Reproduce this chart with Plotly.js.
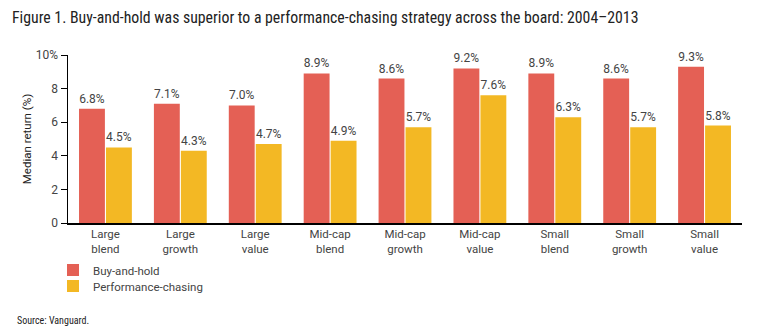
<!DOCTYPE html>
<html>
<head>
<meta charset="utf-8">
<script src="https://cdn.plot.ly/plotly-3.0.1.min.js"></script>
<style>body{margin:0;padding:0;background:#fff;}#chart{width:762px;height:334px;}</style>
</head>
<body>
<div id="chart"></div>
<script>
const categories = ["Large<br>blend","Large<br>growth","Large<br>value","Mid-cap<br>blend","Mid-cap<br>growth","Mid-cap<br>value","Small<br>blend","Small<br>growth","Small<br>value"];
const buyAndHold = [6.8, 7.1, 7.0, 8.9, 8.6, 9.2, 8.9, 8.6, 9.3];
const performanceChasing = [4.5, 4.3, 4.7, 4.9, 5.7, 7.6, 6.3, 5.7, 5.8];
const yTickVals = [0, 2, 4, 6, 8, 10];
const yTickText = ["0", "2", "4", "6", "8", "10%"];

const sans = "Roboto, 'Liberation Sans', sans-serif";
const labelFont = {family: sans, size: 12, color: "#444"};
const condensed = "'Liberation Sans Narrow', 'Roboto Condensed', 'DejaVu Sans Condensed', sans-serif";

const traces = [
  {type: "bar", name: "Buy-and-hold", x: categories, y: buyAndHold, legend: "legend",
   marker: {color: "#E46055"}, text: buyAndHold.map(v => v.toFixed(1) + "%"),
   textposition: "outside", textfont: labelFont, cliponaxis: false, hoverinfo: "skip"},
  {type: "bar", name: "Performance-chasing", x: categories, y: performanceChasing, legend: "legend2",
   marker: {color: "#F3B824"}, text: performanceChasing.map(v => v.toFixed(1) + "%"),
   textposition: "outside", textfont: labelFont, cliponaxis: false, hoverinfo: "skip"}
];

const legendX = (53 - 68) / 674;
const legendFont = {family: sans, size: 11.5, color: "#444"};
const layout = {
  width: 762, height: 334,
  margin: {l: 68, r: 20, t: 55, b: 111},
  paper_bgcolor: "#fff", plot_bgcolor: "#fff",
  barmode: "group", bargap: 0.28, bargroupgap: 0.04,
  font: labelFont,
  title: {text: "Figure 1. Buy-and-hold was superior to a performance-chasing strategy across the board: 2004–2013",
          x: 12/762, xanchor: "left", xref: "container", y: 1 - 17/334, yanchor: "middle", yref: "container",
          font: {family: condensed, size: 15.8, color: "#222"}},
  xaxis: {showline: true, linecolor: "#000", linewidth: 1.5, ticks: "", tickfont: {family: sans, size: 11.5, color: "#444"}, automargin: false},
  yaxis: {range: [0, 10], tickvals: yTickVals, ticktext: yTickText, showgrid: false, zeroline: false,
          showline: true, linecolor: "#000", linewidth: 1.5, ticks: "outside", ticklen: 6, tickcolor: "#000",
          tickfont: labelFont, automargin: false,
          title: {text: "Median return (%)", font: {family: sans, size: 11.5, color: "#222"}, standoff: 2}},
  showlegend: true,
  legend: {x: legendX, xanchor: "left", y: (223 - 270) / 168, yanchor: "middle", bgcolor: "rgba(0,0,0,0)",
           font: legendFont, itemwidth: 30},
  legend2: {x: legendX, xanchor: "left", y: (223 - 286) / 168, yanchor: "middle", bgcolor: "rgba(0,0,0,0)",
            font: legendFont, itemwidth: 30},
  annotations: [{text: "Source: Vanguard.", xref: "paper", yref: "paper", x: (15 - 68) / 674, xanchor: "left",
                 y: (223 - 320) / 168, yanchor: "middle", showarrow: false,
                 font: {family: condensed, size: 10, color: "#222"}}]
};

Plotly.newPlot("chart", traces, layout, {staticPlot: true, displayModeBar: false});
</script>
</body>
</html>
